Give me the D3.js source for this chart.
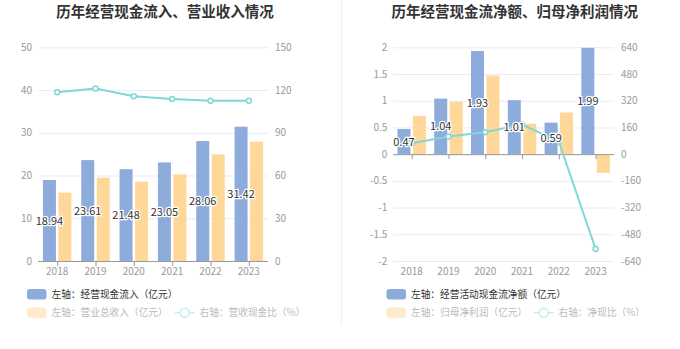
<!DOCTYPE html>
<html><head><meta charset="utf-8">
<script src="https://cdn.jsdelivr.net/npm/d3@7/dist/d3.min.js"></script>
<style>body{margin:0;background:#fff;}svg{display:block;font-family:"Microsoft YaHei","Noto Sans CJK SC",sans-serif;}</style>
</head><body><svg id="c" width="680" height="349"></svg>
<script>
const years = ["2018","2019","2020","2021","2022","2023"];
// Left chart
const cashInflow = [18.94, 23.61, 21.48, 23.05, 28.06, 31.42];
const revenue = [16.00, 19.49, 18.56, 20.28, 24.96, 27.92];
const revCashRatio = [118.4, 121.1, 115.7, 113.7, 112.4, 112.5];
const leftTicksL = [0,10,20,30,40,50];
const leftTicksR = [0,30,60,90,120,150];
// Right chart
const netCashFlow = [0.47, 1.04, 1.93, 1.01, 0.59, 1.99];
const netProfit = [0.717, 0.98, 1.47, 0.57, 0.78, -0.35];
const netCashRatio = [65.6, 106.1, 131.3, 177.2, 75.6, -568];
const rightTicksL = [-2,-1.5,-1,-0.5,0,0.5,1,1.5,2];
const rightTicksR = [-640,-480,-320,-160,0,160,320,480,640];

const C_BLUE = "#8dabdb", C_ORANGE = "#ffd899", C_LINE = "#80d6d9";
const svg = d3.select("#c");

// divider
svg.append("line").attr("x1",341.5).attr("x2",341.5).attr("y1",0).attr("y2",326)
  .attr("stroke","#f2f2f2").attr("stroke-width",1.5);

function chart(o){
  const g = svg.append("g");
  g.append("text").attr("x",o.cx).attr("y",17).attr("text-anchor","middle")
    .attr("font-size",14.5).attr("font-weight","bold").attr("fill","#333").text(o.title);
  const x = d3.scaleBand().domain(years).range([o.x0,o.x1]);
  const yL = d3.scaleLinear().domain(o.domL).range([261,47.3]);
  const yR = d3.scaleLinear().domain(o.domR).range([261,47.3]);
  // grid
  g.selectAll(".grid").data(o.ticksL).enter().append("line")
    .attr("x1",o.x0).attr("x2",o.x1).attr("y1",d=>yL(d)+0.5).attr("y2",d=>yL(d)+0.5)
    .attr("stroke","#e6ebf5").attr("stroke-width",1);
  // left labels
  g.selectAll(".tl").data(o.ticksL).enter().append("text")
    .attr("x",o.x0-6).attr("y",d=>yL(d)+3.5).attr("text-anchor","end")
    .attr("font-size",10).attr("fill","#999").text(d=>d);
  g.selectAll(".tr").data(o.ticksR).enter().append("text")
    .attr("x",o.x1+7).attr("y",d=>yR(d)+3.5).attr("text-anchor","start")
    .attr("font-size",10).attr("fill","#999").text(d=>d);
  const bw = 13, gap = 2.5;
  const cx = d => x(d)+x.bandwidth()/2;
  // bars
  g.selectAll(".b1").data(o.s1).enter().append("rect")
    .attr("x",(d,i)=>cx(years[i])-gap/2-bw).attr("width",bw)
    .attr("y",d=>Math.min(yL(d),yL(0))).attr("height",d=>Math.abs(yL(d)-yL(0)))
    .attr("fill",C_BLUE);
  g.selectAll(".b2").data(o.s2).enter().append("rect")
    .attr("x",(d,i)=>cx(years[i])+gap/2).attr("width",bw)
    .attr("y",d=>Math.min(yL(d),yL(0))).attr("height",d=>Math.abs(yL(d)-yL(0)))
    .attr("fill",C_ORANGE);
  // x axis
  const y0 = yL(0);
  g.append("line").attr("x1",o.x0).attr("x2",o.x1).attr("y1",y0+0.5).attr("y2",y0+0.5)
    .attr("stroke","#999").attr("stroke-width",1);
  g.selectAll(".tick").data(years).enter().append("line")
    .attr("x1",d=>cx(d)+0.5).attr("x2",d=>cx(d)+0.5).attr("y1",y0).attr("y2",y0+5)
    .attr("stroke","#999");
  g.selectAll(".xl").data(years).enter().append("text")
    .attr("x",d=>cx(d)).attr("y",275).attr("text-anchor","middle")
    .attr("font-size",10).attr("fill","#999").text(d=>d);
  // line
  const line = d3.line().x((d,i)=>cx(years[i])).y(d=>yR(d));
  g.append("path").datum(o.s3).attr("d",line).attr("fill","none")
    .attr("stroke",C_LINE).attr("stroke-width",2);
  g.selectAll(".pt").data(o.s3).enter().append("circle")
    .attr("cx",(d,i)=>cx(years[i])).attr("cy",d=>yR(d)).attr("r",2.5)
    .attr("fill","#fff").attr("stroke",C_LINE).attr("stroke-width",1.5);
  // labels
  g.selectAll(".lb").data(o.s1).enter().append("text")
    .attr("x",(d,i)=>cx(years[i])-gap/2-bw/2).attr("y",d=>(yL(d)+yL(0))/2+4)
    .attr("text-anchor","middle").attr("font-size",11).attr("fill","#333")
    .attr("stroke","#fff").attr("stroke-width",2.5).attr("paint-order","stroke")
    .text(d=>d.toFixed(2));
  // legend
  const L = o.legend;
  g.append("rect").attr("x",L.x).attr("y",289).attr("width",19.5).attr("height",10.5).attr("rx",3)
    .attr("fill",C_BLUE);
  g.append("text").attr("x",L.x+24.5).attr("y",297.8).attr("font-size",9.7).attr("fill","#333").text(L.t1);
  g.append("rect").attr("x",L.x).attr("y",307.5).attr("width",19.5).attr("height",10.5).attr("rx",3)
    .attr("fill","#ffebcc");
  g.append("text").attr("x",L.x+24.5).attr("y",316.3).attr("font-size",9.7).attr("fill","#bbb").text(L.t2);
  g.append("line").attr("x1",L.lx).attr("x2",L.lx+19.5).attr("y1",312.7).attr("y2",312.7)
    .attr("stroke","#c5ecee").attr("stroke-width",1.5);
  g.append("circle").attr("cx",L.lx+9.75).attr("cy",312.7).attr("r",4.5)
    .attr("fill","#fff").attr("stroke","#c5ecee").attr("stroke-width",1.5);
  g.append("text").attr("x",L.lx+24.5).attr("y",316.3).attr("font-size",9.7).attr("fill","#bbb").text(L.t3);
}

chart({title:"历年经营现金流入、营业收入情况", cx:165, x0:38, x1:268,
  domL:[0,50], domR:[0,150], ticksL:leftTicksL, ticksR:leftTicksR,
  s1:cashInflow, s2:revenue, s3:revCashRatio,
  legend:{x:27, lx:175, t1:"左轴：经营现金流入（亿元）", t2:"左轴：营业总收入（亿元）", t3:"右轴：营收现金比（%）"}});
chart({title:"历年经营现金流净额、归母净利润情况", cx:514.7, x0:393.3, x1:614,
  domL:[-2,2], domR:[-640,640], ticksL:rightTicksL, ticksR:rightTicksR,
  s1:netCashFlow, s2:netProfit, s3:netCashRatio,
  legend:{x:386.5, lx:534, t1:"左轴：经营活动现金流净额（亿元）", t2:"左轴：归母净利润（亿元）", t3:"右轴：净现比（%）"}});
</script></body></html>
